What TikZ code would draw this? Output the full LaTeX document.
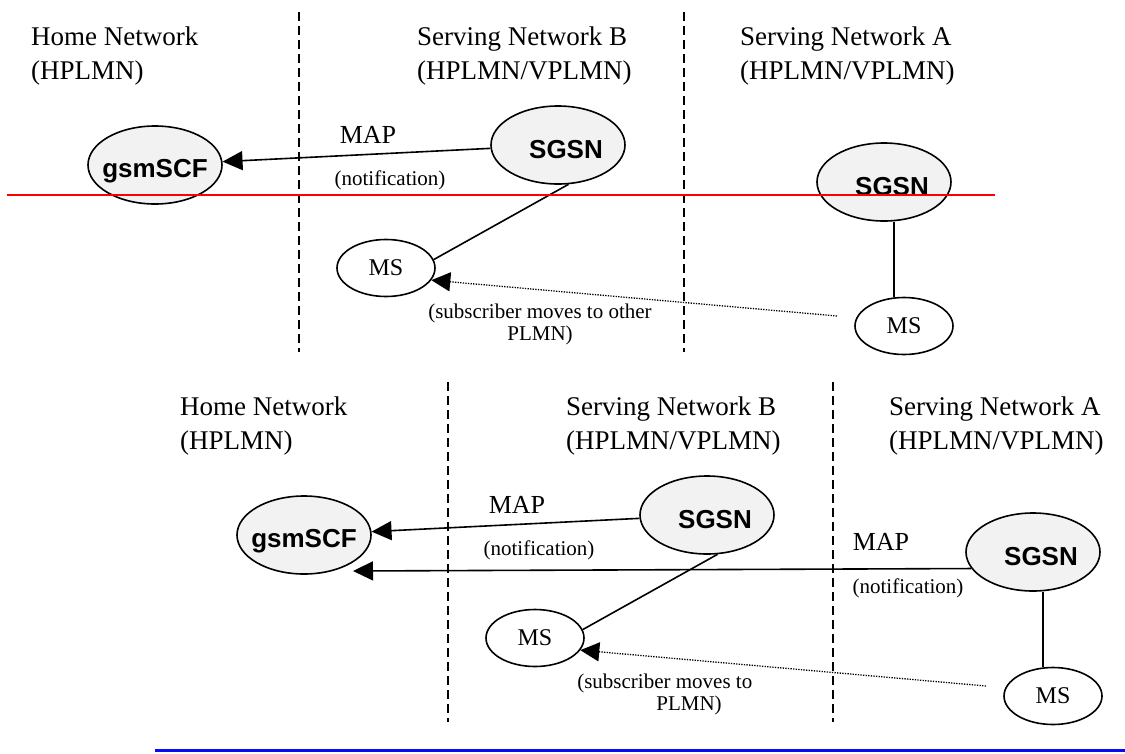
\documentclass[tikz,border=0pt]{standalone}
\usepackage{fontspec}
\setmainfont{Liberation Serif}
\newfontfamily\arialfont{Liberation Sans}
\usetikzlibrary{shapes.geometric,arrows.meta,calc}
\definecolor{nodegray}{RGB}{242,242,242}
\definecolor{sepred}{RGB}{255,0,0}
\definecolor{sepblue}{RGB}{10,10,245}
\newcommand\zbox[1]{\makebox[0pt]{#1}}
\tikzset{
  net/.style={ellipse, draw, line width=1.6pt, fill=nodegray, inner sep=0pt,
    minimum width=134pt, minimum height=78pt,
    font=\arialfont\bfseries\fontsize{26}{26}\selectfont},
  sgsntext/.style={text height=26.6pt, text depth=0pt},
  gsmtext/.style={text height=29.8pt, text depth=5.4pt},
  ms/.style={ellipse, draw, line width=1.6pt, fill=white, inner sep=0pt,
    minimum width=98pt, minimum height=57pt, font=\fontsize{24}{24}\selectfont},
  hdr/.style={anchor=north west, inner sep=0pt, align=left, font=\fontsize{27}{34}\selectfont},
  maplbl/.style={inner sep=0pt, font=\fontsize{26}{26}\selectfont},
  notelbl/.style={inner sep=0pt, align=center, font=\fontsize{21}{22}\selectfont},
  conn/.style={line width=1.6pt},
  msg/.style={line width=1.6pt, -{Triangle[length=20pt,width=19pt]}},
  move/.style={line width=1.3pt, dash pattern=on 1.3pt off 1.3pt, -{Triangle[length=19pt,width=19pt]}},
  divider/.style={line width=1.6pt, dash pattern=on 9pt off 5pt},
}
\begin{document}
\begin{tikzpicture}[x=1pt,y=-1pt]
\useasboundingbox (0,0) rectangle (1125,753);
% ---------------- upper picture ----------------
\draw[divider] (299,12) -- (299,352);
\draw[divider] (684,12) -- (684,352);
\node[hdr] (home1) at (31,26.5) {Home Network\\(HPLMN)};
\node[hdr] (servB1) at (417,26.5) {Serving Network B\\(HPLMN/VPLMN)};
\node[hdr] (servA1) at (740,26.5) {Serving Network A\\(HPLMN/VPLMN)};
\node[net, gsmtext] (gsm1) at (155,165) {\zbox{gsmSCF}};
\node[net, sgsntext] (sgsnB1) at (558,145) {\hspace*{16pt}\zbox{SGSN}};
\node[net, sgsntext] (sgsnA1) at (884,182) {\hspace*{16pt}\zbox{SGSN}};
\node[ms] (msB1) at (386,268) {MS};
\node[ms] (msA1) at (904,326) {MS};
\node[maplbl] (map1) at (368,135) {MAP};
\node[notelbl] (notif1) at (390,180) {(notification)};
\node[notelbl] (move1) at (540,324) {(subscriber moves to other\\PLMN)};
\coordinate (from1) at (837,316);
\draw[msg] (sgsnB1) -- (gsm1);
\draw[conn] (sgsnB1.-75) -- (msB1.10);
\draw[conn] ($(sgsnA1.south)+(10,0)$) -- ($(msA1.north)+(-10,0)$);
\draw[move] (from1) -- (msB1.-15);
% ---------------- lower picture ----------------
\draw[divider] (448,382) -- (448,722);
\draw[divider] (833,382) -- (833,722);
\node[hdr] (home2) at (180,396.5) {Home Network\\(HPLMN)};
\node[hdr] (servB2) at (566,396.5) {Serving Network B\\(HPLMN/VPLMN)};
\node[hdr] (servA2) at (889,396.5) {Serving Network A\\(HPLMN/VPLMN)};
\node[net, gsmtext] (gsm2) at (304,535) {\zbox{gsmSCF}};
\node[net, sgsntext] (sgsnB2) at (707,515) {\hspace*{16pt}\zbox{SGSN}};
\node[net, sgsntext] (sgsnA2) at (1033,552) {\hspace*{16pt}\zbox{SGSN}};
\node[ms] (msB2) at (535,638) {MS};
\node[ms] (msA2) at (1053,696) {MS};
\node[maplbl] (map2) at (517,505) {MAP};
\node[notelbl] (notif2) at (539,550) {(notification)};
\node[maplbl] (map3) at (881,542) {MAP};
\node[notelbl] (notif3) at (908,588) {(notification)};
\node[notelbl] (move2) at (689,694) {(subscriber moves to\phantom{\ other}\\PLMN)};
\coordinate (from2) at (986,686);
\coordinate (gtip) at (353,571);
\draw[msg] (sgsnB2) -- (gsm2);
\draw[msg] (sgsnA2.195) -- (gtip);
\draw[conn] (sgsnB2.-75) -- (msB2.10);
\draw[conn] ($(sgsnA2.south)+(10,0)$) -- ($(msA2.north)+(-10,0)$);
\draw[move] (from2) -- (msB2.-15);
% ---------------- marking lines ----------------
\draw[sepred, line width=2.5pt] (7,195) -- (995,195);
\draw[sepblue, line width=3pt] (155,750) -- (1125,750);
\end{tikzpicture}
\end{document}
